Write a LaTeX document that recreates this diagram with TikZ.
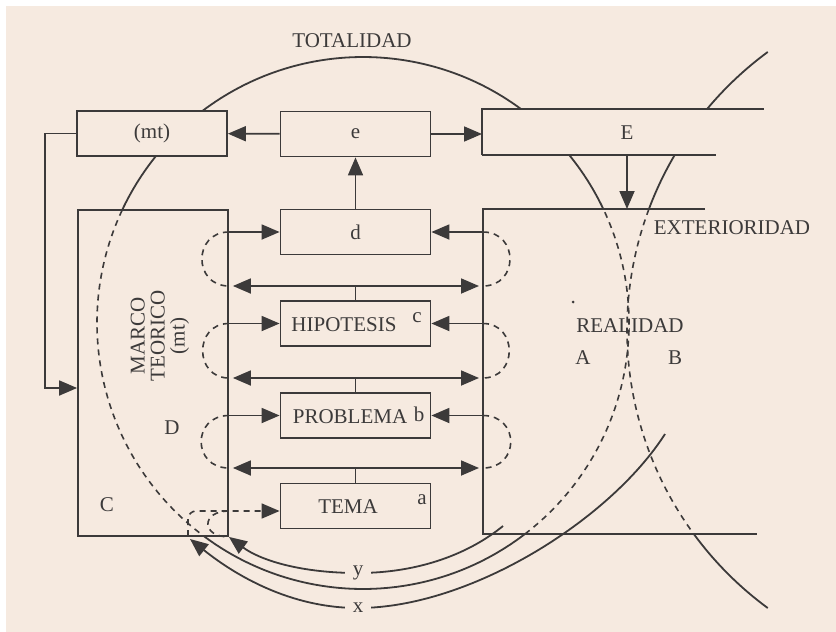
\documentclass[tikz,border=0pt]{standalone}
\usepackage{fontspec}
\setmainfont{Liberation Serif}
\usepackage{xcolor}
\usepackage{tikz}
\usetikzlibrary{arrows.meta, positioning, calc}
\definecolor{fondo}{RGB}{246,234,224}
\definecolor{tinta}{RGB}{60,58,58}
\tikzset{
  caja/.style={rectangle, draw=tinta, line width=0.9pt, minimum width=75pt, minimum height=22.5pt, inner sep=0pt, font=\fontsize{10.5}{10.5}\selectfont, text=tinta},
  flecha/.style={-{Triangle[length=9pt,width=7.5pt]}, draw=tinta, line width=0.9pt},
  dflecha/.style={{Triangle[length=9pt,width=7.5pt]}-{Triangle[length=9pt,width=7.5pt]}, draw=tinta, line width=0.9pt, shorten <=2pt, shorten >=2pt},
  linea/.style={draw=tinta, line width=0.9pt},
  trazos/.style={draw=tinta, line width=0.8pt, dash pattern=on 3pt off 2.5pt},
  texto/.style={font=\fontsize{10.5}{10}\selectfont, text=tinta, inner sep=0pt},
  sobrearco/.style={texto, fill=fondo, inner xsep=4pt, inner ysep=1pt}
}

\begin{document}
\begin{tikzpicture}[x=0.5pt, y=-0.5pt]
    \useasboundingbox (0,0) rectangle (836,632);
    % Fondo
    \fill[white] (-10,-10) rectangle (850,650);
    \fill[fondo] (6,6) rectangle (850,650);

    % Cajas
    \node[caja] (mt) at (152,133.5) {(mt)};
    \node[caja] (e) at (355.5,134) {e};
    \node[caja] (d) at (355.5,232) {d};
    \node[caja] (hip) at (355.5,323.5) {};
    \node[texto] (thip) at (344,325) {HIPOTESIS};
    \node[texto] (c) at (417,318) {c};
    \node[caja] (prob) at (355.5,415.5) {};
    \node[texto] (tprob) at (350,417) {PROBLEMA};
    \node[texto] (b) at (419,414) {b};
    \node[caja] (tema) at (355.5,506) {};
    \node[texto] (ttema) at (348,507) {TEMA};
    \node[texto] (a) at (422,500) {a};

    % Marco teorico
    \node[caja, minimum height=163pt] (marco) at (153,373) {};
    \node[texto, rotate=90, align=center] (tmarco) at (160,336) {MARCO\\TEORICO\\(mt)};
    \node[texto] (D) at (172,428) {D};
    \node[texto] (C) at (107,505) {C};

    % Exterioridad y realidad
    \coordinate (Ea) at (482,109);
    \coordinate (Eb) at (482,155);
    \coordinate (Rsup) at (483,209);
    \coordinate (Rinf) at (483,534);
    \draw[linea] (Eb) -- (Ea) -- ++(282,0);
    \draw[linea] (Eb) -- ++(234,0);
    \draw[linea] (Rsup) ++(222,0) -- (Rsup) -- (Rinf) -- ++(274,0);
    \node[texto] (E) at (627,133) {E};
    \node[texto] (text) at (732,228) {EXTERIORIDAD};
    \node[texto] (treal) at (630,326) {REALIDAD};
    \node[texto] (A) at (583,358) {A};
    \node[texto] (B) at (675,358) {B};
    \node[texto] (tot) at (352,41) {TOTALIDAD};
    \fill[tinta] (573,302) circle[radius=1.5];

    % Circulo de la totalidad
    \coordinate (ctot) at (363,323);
    \draw[linea] (ctot) ++(-127.2:266) arc[start angle=-127.2, end angle=-53.6, radius=266];
    \draw[linea] (ctot) ++(-141.1:266) arc[start angle=-141.1, end angle=-154.9, radius=266];
    \draw[trazos] (ctot) ++(-154.9:266) arc[start angle=-154.9, end angle=-233.2, radius=266];
    \draw[linea] (ctot) ++(126.8:266) arc[start angle=126.8, end angle=52.5, radius=266];
    \draw[trazos] (ctot) ++(52.5:266) arc[start angle=52.5, end angle=-25.4, radius=266];
    \draw[linea] (ctot) ++(-25.4:266) arc[start angle=-25.4, end angle=-39.2, radius=266];

    % Circulo B
    \coordinate (cB) at (972,330);
    \draw[linea] (cB) ++(-126.3:345) arc[start angle=-126.3, end angle=-140.2, radius=345];
    \draw[linea] (cB) ++(-149.5:345) arc[start angle=-149.5, end angle=-159.5, radius=345];
    \draw[trazos] (cB) ++(-159.5:345) arc[start angle=-159.5, end angle=-216.25, radius=345];
    \draw[linea] (cB) ++(143.75:345) arc[start angle=143.75, end angle=126.3, radius=345];

    % Flechas superiores
    \draw[flecha] (e) -- (mt);
    \draw[flecha] (e) -- (Ea |- e.east);
    \draw[flecha] (d) -- (e);
    \draw[flecha] (E |- Eb) -- (E |- Rsup);
    \draw[flecha] (mt.west) -- ++(-31,0) |- ([yshift=-7.5pt]marco.west);

    % Flechas hacia las cajas
    \draw[flecha] (marco.east |- d.west) -- (d.west);
    \draw[flecha] (Rsup |- d.east) -- (d.east);
    \draw[flecha] (marco.east |- hip.west) -- (hip.west);
    \draw[flecha] (Rsup |- hip.east) -- (hip.east);
    \draw[flecha] (marco.east |- prob.west) -- (prob.west);
    \draw[flecha] (Rsup |- prob.east) -- (prob.east);

    % Flechas dobles
    \coordinate (f1) at (355.5,286);
    \coordinate (f2) at (355.5,378);
    \coordinate (f3) at (355.5,468);
    \draw[dflecha] (marco.east |- f1) -- (Rsup |- f1);
    \draw[dflecha] (marco.east |- f2) -- (Rsup |- f2);
    \draw[dflecha] (marco.east |- f3) -- (Rsup |- f3);
    \draw[linea] (f1) -- (hip.north);
    \draw[linea] (f2) -- (prob.north);
    \draw[linea] (f3) -- (tema.north);

    % Lazos
    \draw[trazos] (marco.east |- d.west) .. controls +(-36,0) and +(-36,0) .. (marco.east |- f1);
    \draw[trazos] (marco.east |- hip.west) .. controls +(-35,0) and +(-35,0) .. (marco.east |- f2);
    \draw[trazos] (marco.east |- prob.west) .. controls +(-37,0) and +(-37,0) .. (marco.east |- f3);
    \draw[trazos] (Rsup |- d.east) .. controls +(36,0) and +(36,0) .. (Rsup |- f1);
    \draw[trazos] (Rsup |- hip.east) .. controls +(35,0) and +(35,0) .. (Rsup |- f2);
    \draw[trazos] (Rsup |- prob.east) .. controls +(37,0) and +(37,0) .. (Rsup |- f3);

    % Tema
    \coordinate (tini) at (188,536);
    \draw[flecha, trazos, rounded corners=4pt] (tini) |- ([yshift=-2.5pt]tema.west);
    \draw[trazos] ([yshift=-2.5pt]marco.east |- tema.west) .. controls +(-28,0) and +(-28,0) .. (marco.south east);

    % Retornos x e y
    \coordinate (yini) at (503,526);
    \coordinate (xini) at (665,434);
    \coordinate (xfin) at (190,539);
    \draw[flecha] (yini) .. controls (470,553) and (420,573) .. (358,573) node[sobrearco] (ly) {y}
        .. controls (300,573) and (260,560) .. (marco.south east);
    \draw[flecha] (xini) .. controls (610,520) and (470,608) .. (358,608) node[sobrearco] (lx) {x}
        .. controls (290,608) and (235,575) .. (xfin);
\end{tikzpicture}
\end{document}
